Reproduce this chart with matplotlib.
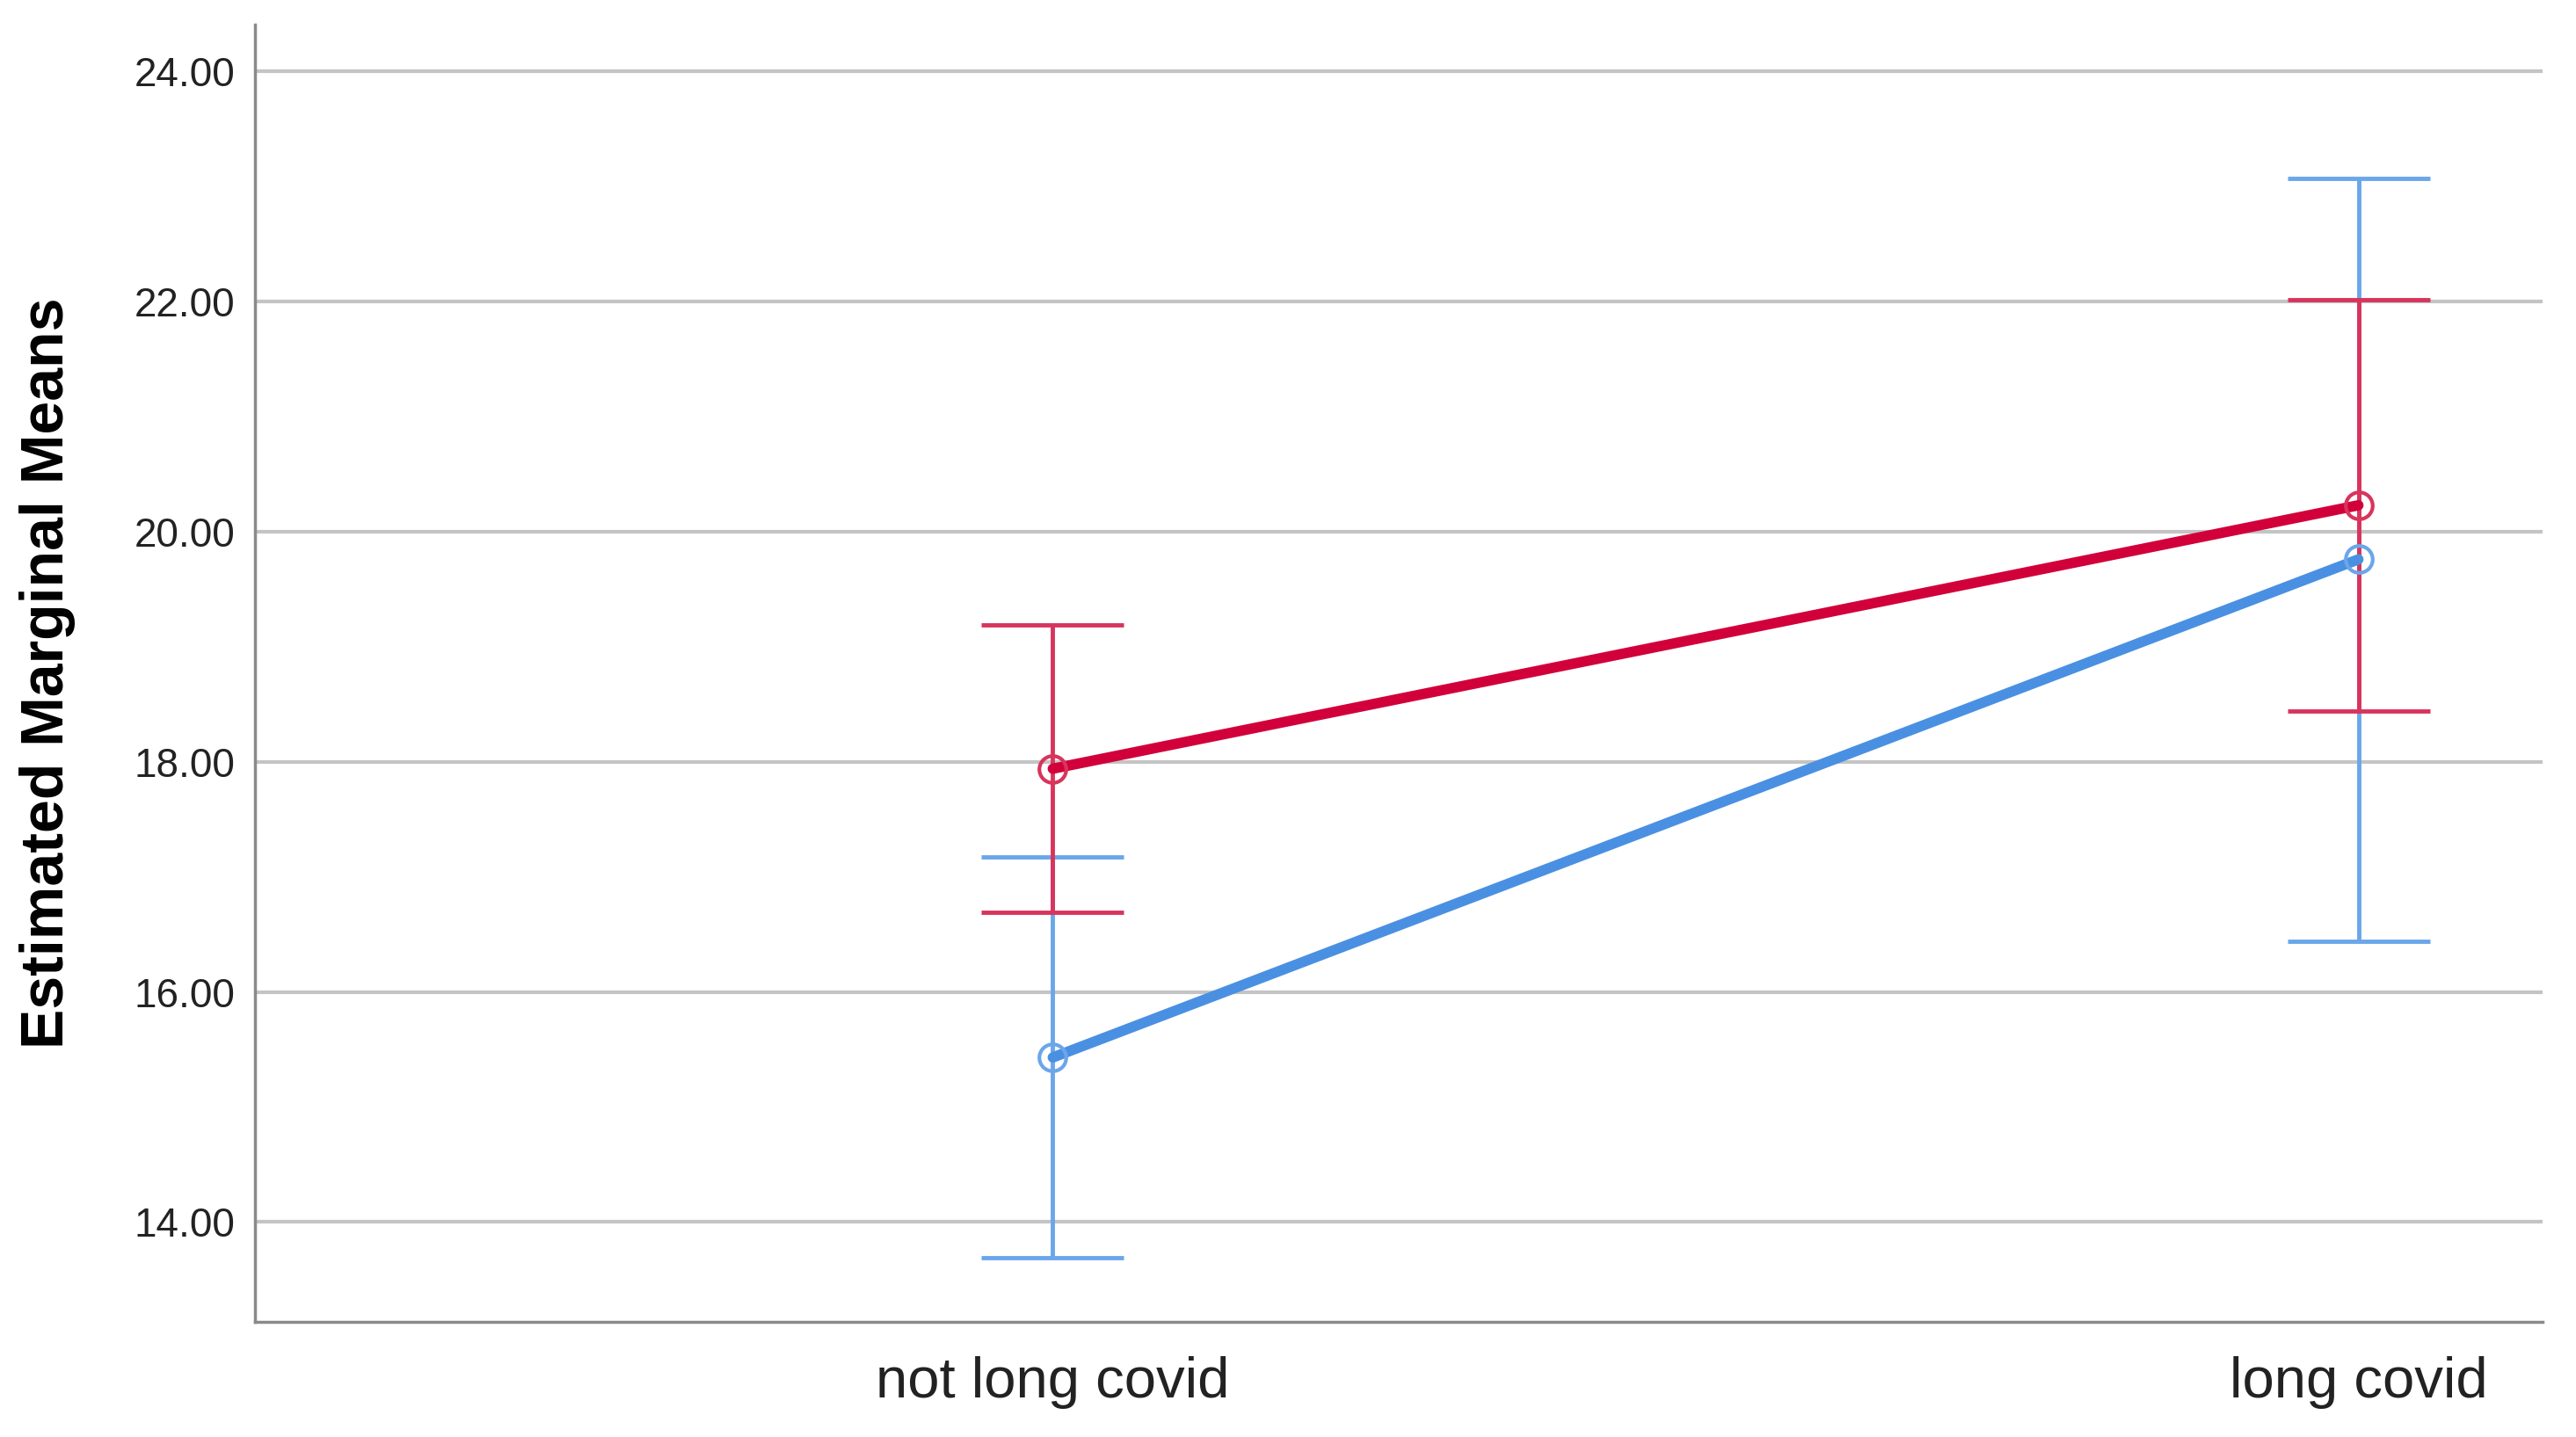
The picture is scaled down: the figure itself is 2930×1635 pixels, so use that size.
import numpy as np
import matplotlib.pyplot as plt

# Data
categories = ['not long covid', 'long covid']
red_means = [17.94, 20.23]
red_upper = [19.19, 22.02]
red_lower = [16.69, 18.44]
blue_means = [15.43, 19.76]
blue_upper = [17.17, 23.07]
blue_lower = [13.69, 16.44]
y_ticks = [14, 16, 18, 20, 22, 24]

plt.rcParams['font.family'] = ['Liberation Sans', 'DejaVu Sans']

fig = plt.figure(figsize=(29.3, 16.35), dpi=100)
ax = fig.add_axes([0.099, 0.080, 0.888, 0.903])

x = np.arange(len(categories))

series = [
    (blue_means, blue_lower, blue_upper, '#4a90e2', '#6aa6ea'),
    (red_means, red_lower, red_upper, '#d2003a', '#d8345c'),
]
for means, lower, upper, line_col, bar_col in series:
    means = np.array(means)
    err = [means - np.array(lower), np.array(upper) - means]
    ax.errorbar(x, means, yerr=err, fmt='none', ecolor=bar_col,
                elinewidth=3.5, capsize=58, capthick=3.5, zorder=3)
    ax.plot(x, means, color=line_col, lw=8.5, zorder=4,
            solid_capstyle='round')
    ax.plot(x, means, 'o', mfc='none', mec=bar_col, ms=22, mew=3, zorder=5)

ax.set_xlim(-0.611, 1.141)
ax.set_ylim(13.13, 24.41)
ax.set_xticks(x)
ax.set_xticklabels(categories, fontsize=47, color='#222222')
ax.set_yticks(y_ticks)
ax.set_yticklabels([f'{t:.2f}' for t in y_ticks], fontsize=33, color='#222222')
ax.tick_params(axis='both', length=0)
ax.tick_params(axis='y', pad=16)
ax.tick_params(axis='x', pad=28)

ax.set_ylabel('Estimated Marginal Means', fontsize=49, fontweight='bold',
              labelpad=48)

ax.yaxis.grid(True, color='#c4c4c4', lw=3)
ax.set_axisbelow(True)
for s in ['top', 'right']:
    ax.spines[s].set_visible(False)
for s in ['left', 'bottom']:
    ax.spines[s].set_color('#8a8a8a')
    ax.spines[s].set_linewidth(2.5)

fig.savefig('out.png', dpi=100)
